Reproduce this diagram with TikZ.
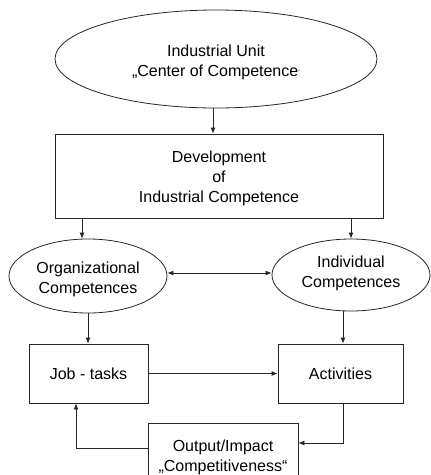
\documentclass[tikz,border=0pt]{standalone}
\usepackage{fontspec}
\setmainfont{Liberation Sans}
\usetikzlibrary{shapes.geometric,arrows.meta}
\begin{document}
\begin{tikzpicture}[x=1pt,y=-1pt,
  every node/.style={font=\fontsize{16}{20}\selectfont, align=center},
  ell/.style={draw=black!85, line width=0.8pt, ellipse, inner sep=0pt},
  boxn/.style={draw=black!85, line width=0.8pt, rectangle, inner sep=0pt},
  arr/.style={draw=black!85, line width=0.8pt, -{Latex[length=6pt,width=5pt]}},
  dbl/.style={draw=black!85, line width=0.8pt, {Latex[length=6pt,width=5pt]}-{Latex[length=6pt,width=5pt]}}]
\useasboundingbox (0,0) rectangle (431,475);
\clip (0,0) rectangle (431,475);

% top unit
\node[ell, minimum width=322, minimum height=98] (unit) at (216,59) {};
\node (unittxt) at (216,62) {Industrial Unit\\„Center of Competence\raisebox{0.35ex}{\fontsize{5}{5}\selectfont “}};

% development box
\node[boxn, minimum width=328, minimum height=84] (dev) at (219,176) {};
\node (devtxt) at (219,178) {Development\\of\\Industrial Competence};

% competence ellipses
\node[ell, minimum width=158, minimum height=74] (org) at (88,276) {};
\node (orgtxt) at (88,279) {Organizational\\Competences};
\node[ell, minimum width=158, minimum height=72] (ind) at (351,275) {};
\node (indtxt) at (351,273) {Individual\\Competences};

% task boxes
\node[boxn, minimum width=119, minimum height=59] (job) at (88.5,373.5) {Job - tasks};
\node[boxn, minimum width=125, minimum height=59] (act) at (340.5,373.5) {Activities};

% output box (runs past the lower edge)
\node[boxn, minimum width=150, minimum height=60] (out) at (223,453) {};
\node (outtxt) at (223,457) {Output/Impact\\„Competitiveness“};

% connectors
\draw[arr] ([xshift=-3]unit.south) -- ([xshift=-3]unit.south |- dev.north);
\draw[arr] ([xshift=-6]org.north |- dev.south) -- ([xshift=-6]org.north);
\draw[arr] (ind.north |- dev.south) -- (ind.north);
\draw[dbl] ([yshift=3]org.east) -- ([yshift=2]ind.west);
\draw[arr] (org.south) -- (org.south |- job.north);
\draw[arr] ([xshift=-8]ind.south) -- ([xshift=-8]ind.south |- act.north);
\draw[arr] (job.east) -- (act.west);

\coordinate (actturn) at (343,443);
\coordinate (outturn) at (76,448);
\draw[arr] (actturn |- act.south) -- (actturn) -- (actturn -| out.east);
\draw[arr] (outturn -| out.west) -- (outturn) -- (outturn |- job.south);
\end{tikzpicture}
\end{document}
